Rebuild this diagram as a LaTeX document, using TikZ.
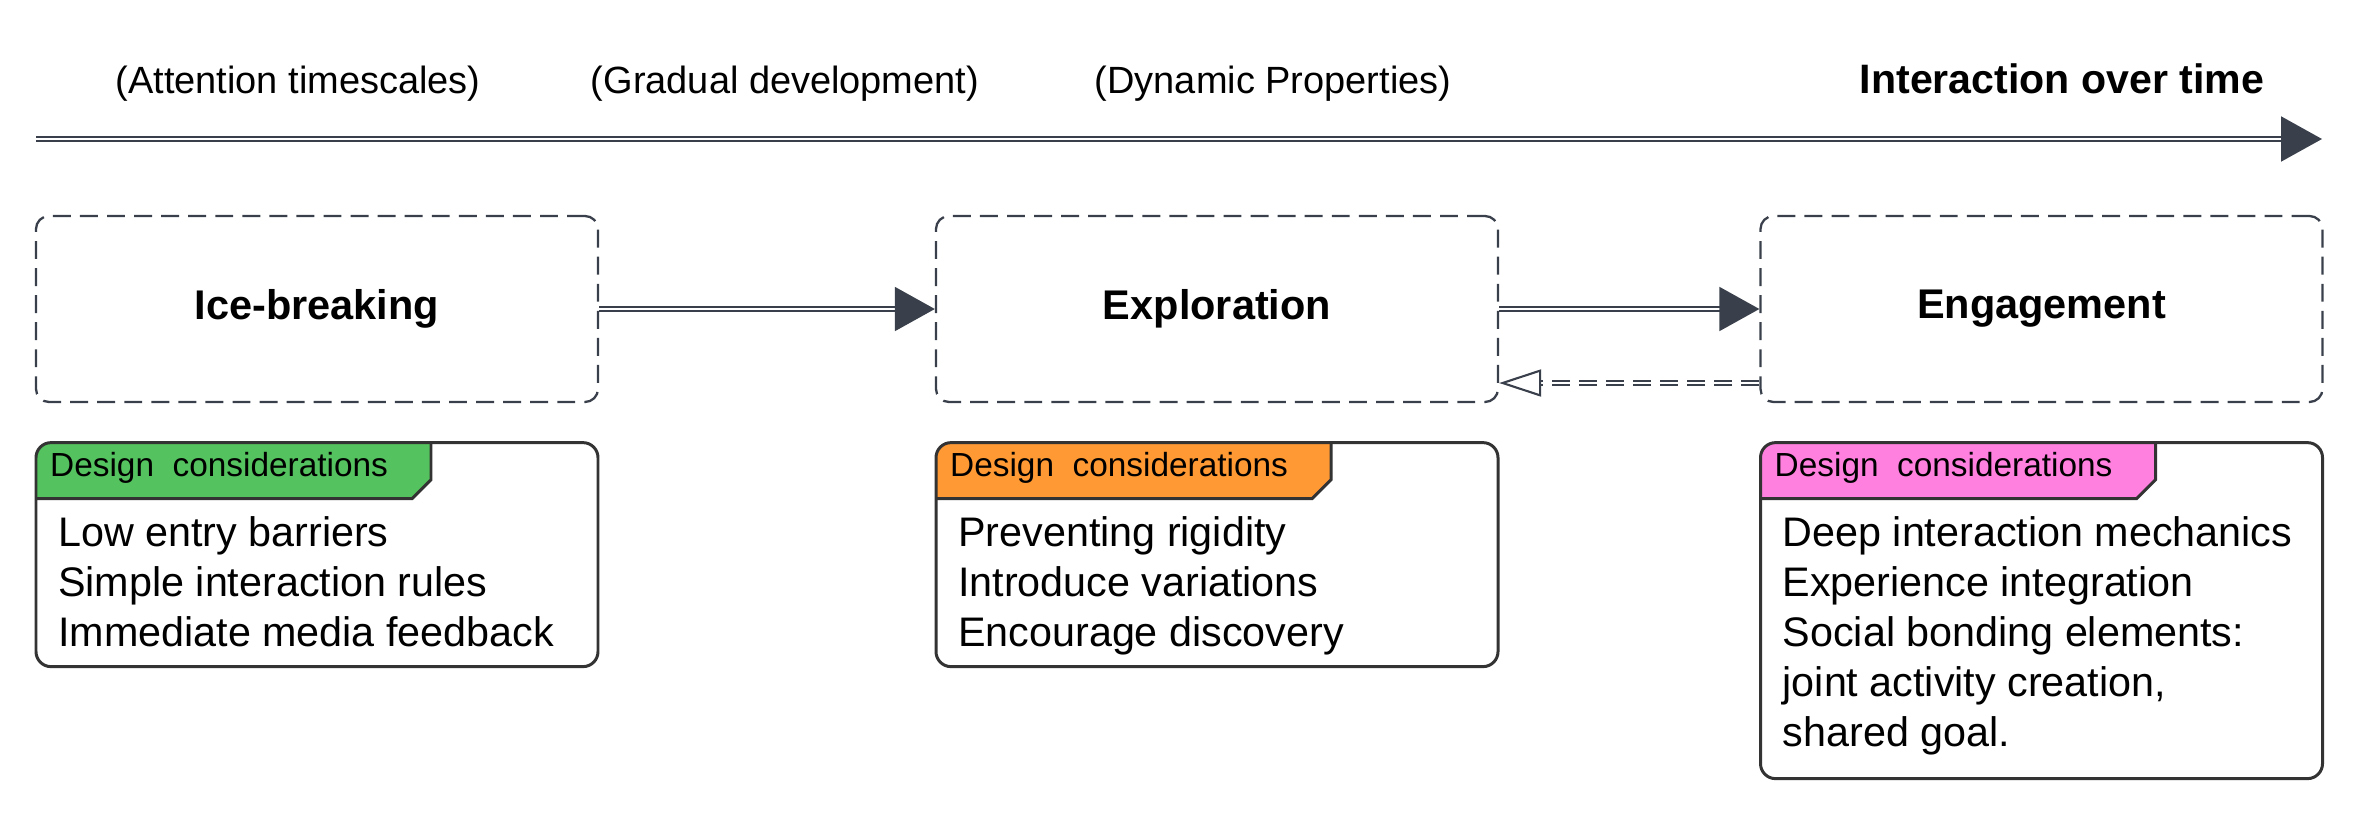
\documentclass[tikz,border=0pt]{standalone}
\usepackage{fontspec}
\setmainfont{Liberation Sans}
\usetikzlibrary{arrows.meta,positioning}
\definecolor{edge}{RGB}{58,64,75}
\definecolor{notedge}{RGB}{51,51,51}
\definecolor{tabgreen}{RGB}{84,194,94}
\definecolor{taborange}{RGB}{255,153,51}
\definecolor{tabpink}{RGB}{255,128,222}
\tikzset{
  phase/.style={draw=edge, dash pattern=on 5.1pt off 2.6pt, line width=0.65pt,
                rounded corners=0.13cm, minimum width=5.62cm, minimum height=1.86cm,
                font=\fontsize{11.8pt}{14pt}\selectfont\bfseries},
  note/.style={draw=notedge, line width=0.85pt, rounded corners=0.15cm, fill=white,
               minimum width=5.62cm, inner sep=0pt,
               path picture={
                 \fill[#1, sharp corners] (path picture bounding box.north west)
                   -- ++(3.95,0) -- ++(0,-0.37) -- ++(-0.19,-0.19) -- ++(-3.76,0) -- cycle;
                 \draw[notedge, line width=0.85pt, sharp corners]
                   (path picture bounding box.north west) ++(3.95,0)
                   -- ++(0,-0.37) -- ++(-0.19,-0.19) -- ++(-3.76,0);
               }},
  tabtxt/.style={anchor=base west, inner sep=0pt, font=\fontsize{9.5pt}{11pt}\selectfont},
  items/.style={anchor=north west, inner sep=0pt, align=left,
                font=\fontsize{11.75pt}{14.23pt}\selectfont},
  toplab/.style={anchor=base, inner sep=0pt, font=\fontsize{10.8pt}{13pt}\selectfont},
  timeline/.style={draw=edge, double, double distance=0.5pt, line width=0.6pt,
                   -{Triangle[length=0.41cm, width=0.45cm]}},
  flow/.style={draw=edge, double, double distance=0.45pt, line width=0.5pt,
               -{Triangle[length=0.40cm, width=0.44cm]}},
  back/.style={draw=edge, double, double distance=0.5pt, line width=0.5pt,
               dash pattern=on 5.1pt off 2.6pt,
               -{Triangle[open, length=0.42cm, width=0.27cm, line width=0.6pt]}},
}

\begin{document}
\begin{tikzpicture}
\useasboundingbox (0,0) rectangle (23.72,8.16);

% time axis
\coordinate (tstart) at (0.36,6.77);
\coordinate (tend) at (23.22,6.77);
\draw[timeline] (tstart) -- (tend);

\node[toplab] (attn) at (2.98,7.23) {(Attention timescales)};
\node[toplab] (grad) at (7.85,7.23) {(Gradual development)};
\node[toplab] (dyn) at (12.73,7.23) {(Dynamic Properties)};
\node[toplab, anchor=base east, font=\fontsize{11.7pt}{14pt}\selectfont\bfseries]
  (iot) at (22.65,7.23) {Interaction over time};

% phases
\node[phase] (ice) at (3.17,5.07) {Ice-breaking};
\node[phase] (expl) at (12.17,5.07) {Exploration};
\node[phase] (eng) at (20.415,5.07) {Engagement};

\draw[flow] (ice) -- (expl);
\draw[flow] (expl) -- (eng);
\draw[back] ([yshift=-0.74cm]eng.west) -- ([yshift=-0.74cm]expl.east);

% design considerations
\node[note=tabgreen, minimum height=2.24cm, below=0.38cm of ice] (icenote) {};
\node[note=taborange, minimum height=2.24cm, below=0.38cm of expl] (explnote) {};
\node[note=tabpink, minimum height=3.36cm, below=0.38cm of eng] (engnote) {};

\foreach \n in {icenote, explnote, engnote}
  \node[tabtxt] (\n-tab) at ([xshift=0.15cm, yshift=-0.35cm]\n.north west)
    {Design\ \ considerations};

\node[items] (iceitems) at ([xshift=0.23cm, yshift=-0.75cm]icenote.north west)
  {Low entry barriers\\Simple interaction rules\\Immediate media feedback};
\node[items] (explitems) at ([xshift=0.23cm, yshift=-0.75cm]explnote.north west)
  {Preventing rigidity\\Introduce variations\\Encourage discovery};
\node[items] (engitems) at ([xshift=0.23cm, yshift=-0.75cm]engnote.north west)
  {Deep interaction mechanics\\Experience integration\\Social bonding elements:\\
   joint activity creation,\\shared goal.};

\end{tikzpicture}
\end{document}
